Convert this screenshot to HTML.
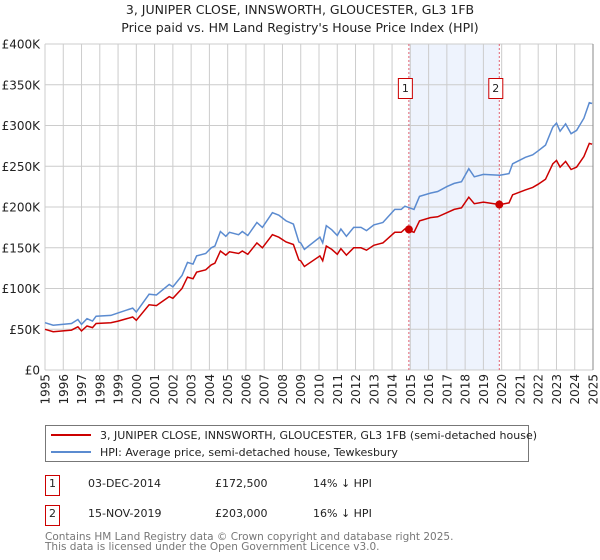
<!DOCTYPE html>
<html><head><meta charset="utf-8"><style>
body{margin:0;background:#fff;width:600px;height:560px;overflow:hidden;font-family:"Liberation Sans","DejaVu Sans",sans-serif}
svg{display:block}
</style></head><body>
<svg id="chart" width="600" height="560" xmlns="http://www.w3.org/2000/svg" font-family="'DejaVu Sans','Liberation Sans',sans-serif">
<text x="300" y="14" text-anchor="middle" font-size="12.5" fill="#222">3, JUNIPER CLOSE, INNSWORTH, GLOUCESTER, GL3 1FB</text>
<text x="300" y="32" text-anchor="middle" font-size="12.5" fill="#222">Price paid vs. HM Land Registry's House Price Index (HPI)</text>
<g id="grid"></g><g id="marks"></g><g id="axes"></g>
<g>
<rect x="45.5" y="425.5" width="483" height="36" fill="#fff" stroke="#777"/>
<line x1="51" y1="435" x2="91" y2="435" stroke="#cc0000" stroke-width="2"/>
<text x="100" y="439" font-size="11" fill="#222">3, JUNIPER CLOSE, INNSWORTH, GLOUCESTER, GL3 1FB (semi-detached house)</text>
<line x1="51" y1="452" x2="91" y2="452" stroke="#5b8bd0" stroke-width="2"/>
<text x="100" y="456" font-size="11" fill="#222">HPI: Average price, semi-detached house, Tewkesbury</text>
</g>
<g font-size="11" fill="#222">
<rect x="45.5" y="475.5" width="14" height="20" fill="#fff" stroke="#cc0000"/>
<text x="52.5" y="487" text-anchor="middle">1</text>
<text x="88" y="487">03-DEC-2014</text>
<text x="215" y="487">£172,500</text>
<text x="313" y="487">14% ↓ HPI</text>
<rect x="45.5" y="505.5" width="14" height="20" fill="#fff" stroke="#cc0000"/>
<text x="52.5" y="517" text-anchor="middle">2</text>
<text x="88" y="517">15-NOV-2019</text>
<text x="215" y="517">£203,000</text>
<text x="313" y="517">16% ↓ HPI</text>
</g>
<text x="45" y="540" font-size="10.5" fill="#777">Contains HM Land Registry data © Crown copyright and database right 2025.</text>
<text x="45" y="550" font-size="10.5" fill="#777">This data is licensed under the Open Government Licence v3.0.</text>
</svg>
<script>
const years=[1995.0,1995.45,1996.45,1996.8,1997.0,1997.3,1997.6,1997.8,1998.6,1999.0,1999.8,2000.0,2000.7,2001.1,2001.8,2002.0,2002.5,2002.8,2003.1,2003.3,2003.8,2004.1,2004.3,2004.6,2004.9,2005.1,2005.6,2005.8,2006.1,2006.6,2006.9,2007.45,2007.8,2008.2,2008.6,2008.9,2009.0,2009.2,2010.05,2010.2,2010.4,2010.7,2011.0,2011.2,2011.5,2011.9,2012.3,2012.6,2013.0,2013.5,2014.15,2014.5,2014.7,2015.2,2015.5,2016.1,2016.5,2017.0,2017.4,2017.8,2018.2,2018.5,2019.0,2019.9,2020.4,2020.6,2021.3,2021.7,2022.0,2022.4,2022.8,2023.0,2023.2,2023.5,2023.8,2024.1,2024.5,2024.8,2024.95];
const hpiValues=[58,55,57,62,56,63,60,66,67,70,76,71,93,92,105,102,116,132,130,140,143,150,152,170,164,169,166,170,165,181,175,193,190,183,179,157,156,148,163,156,177,172,165,173,164,175,175,171,178,181,197,197,201,197,213,217,219,225,229,231,247,237,240,239,241,253,261,264,269,276,298,303,293,302,290,294,309,328,327];
const propertyValues=[50,47,49,53,48,54,52,57,58,60,65,61,80,79,90,88,100,114,112,120,123,129,131,146,141,145,143,146,142,156,150,166,163,157,154,135,134,127,140,134,152,148,142,149,141,150,150,147,153,156,169,169,173,169,183,187,188,193,197,199,212,204,206,203,205,215,221,224,228,234,253,257,249,256,246,249,262,278,277];
const saleYears=[2014.92,2019.87];
const salePrices=[172.5,203];
const saleLabels=["1","2"];
const yTicks=[0,50,100,150,200,250,300,350,400];
const yTickLabels=["£0","£50K","£100K","£150K","£200K","£250K","£300K","£350K","£400K"];
const xTickYears=[1995,1996,1997,1998,1999,2000,2001,2002,2003,2004,2005,2006,2007,2008,2009,2010,2011,2012,2013,2014,2015,2016,2017,2018,2019,2020,2021,2022,2023,2024,2025];

const X0=45,X1=593,Y0=370,Y1=44;
const xs=y=>X0+(y-1995)/30*(X1-X0);
const ys=v=>Y0-v/400*(Y0-Y1);
const NS="http://www.w3.org/2000/svg";
function mk(tag,parent,attrs){const e=document.createElementNS(NS,tag);for(const k in attrs)e.setAttribute(k,attrs[k]);parent.appendChild(e);return e;}
const grid=document.getElementById('grid'),marks=document.getElementById('marks'),axes=document.getElementById('axes');

// shaded band
const band=mk('rect',grid,{x:xs(saleYears[0]),y:Y1,width:xs(saleYears[1])-xs(saleYears[0]),height:Y0-Y1,fill:'#eef3fd'});



xTickYears.forEach(yr=>{
  const l=mk('line',grid,{x1:xs(yr),x2:xs(yr),y1:Y1,y2:Y0,stroke:'#cccccc','stroke-width':1});
  
  
  const t=mk('text',axes,{transform:`translate(${xs(yr)+4.5},374) rotate(-90)`,'text-anchor':'end','font-size':12,fill:'#222'});
  
  
  t.textContent=yr;
});
yTicks.forEach((v,i)=>{
  const l=mk('line',grid,{x1:X0,x2:X1,y1:ys(v),y2:ys(v),stroke:'#cccccc','stroke-width':1});
  
  
  const t=mk('text',axes,{x:40,y:ys(v)+4.5,'text-anchor':'end','font-size':12,fill:'#222'});
  
  
  t.textContent=yTickLabels[i];
});
const rb=mk('line',axes,{x1:X1,x2:X1,y1:Y1,y2:Y0,stroke:'#888','stroke-width':1});



function path(vals){return vals.map((v,i)=>(i?'L':'M')+xs(years[i]).toFixed(1)+','+ys(v).toFixed(1)).join('');}
const hp=mk('path',marks,{d:path(hpiValues),fill:'none',stroke:'#5b8bd0','stroke-width':1.5});


const pp=mk('path',marks,{d:path(propertyValues),fill:'none',stroke:'#cc0000','stroke-width':1.5});



saleYears.forEach((yr,i)=>{
  const x=xs(yr);
  const d=mk('line',marks,{x1:x,x2:x,y1:Y1,y2:Y0,stroke:'#e06070','stroke-width':1,'stroke-dasharray':'2,2'});
  
  
  const c=mk('circle',marks,{cx:x,cy:ys(salePrices[i]),r:4,fill:'#cc0000'});
  
  
  const b=mk('rect',marks,{x:x-10.5,y:78.5,width:14,height:20,fill:'#fff',stroke:'#cc0000'});
  
  
  const t=mk('text',marks,{x:x-3.5,y:92,'text-anchor':'middle','font-size':11,fill:'#222'});
  
  
  t.textContent=saleLabels[i];
});
</script>
</body></html>
